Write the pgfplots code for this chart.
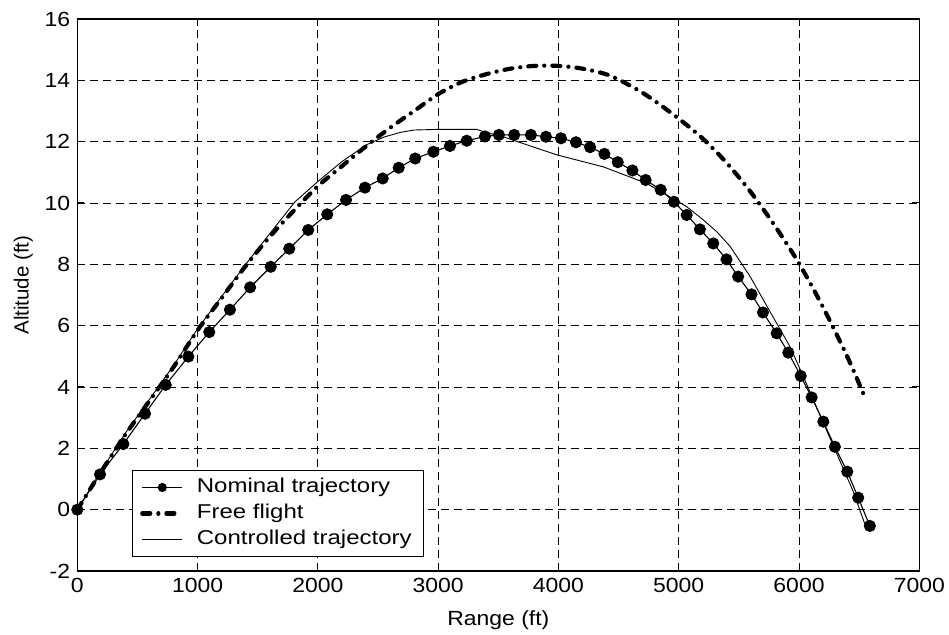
\documentclass[border=0pt]{standalone}
\usepackage{fontspec}
\setmainfont{Liberation Sans}[FakeStretch=1.12]
\newfontfamily\legfont{Liberation Sans}[FakeStretch=1.2]
\newfontfamily\ylabfont{Liberation Sans}
\usepackage{pgfplots}
\pgfplotsset{compat=1.18}

\begin{document}
\begin{tikzpicture}
\useasboundingbox (-77.3pt,-63pt) rectangle (871.7pt,571pt);
\begin{axis}[
  at={(0pt,0pt)}, anchor=south west,
  width=842pt, height=552pt, scale only axis,
  xmin=0, xmax=7000, ymin=-2, ymax=16,
  xtick={0,1000,...,7000}, ytick={-2,0,...,16},
  scaled x ticks=false,
  /pgf/number format/1000 sep={},
  /pgf/number format/assume math mode=true,
  grid=major,
  major grid style={black, line width=0.8pt, dash pattern=on 8pt off 5pt},
  axis line style={black, line width=1.2pt},
  tick align=inside, major tick length=7pt,
  tick style={black, line width=1pt},
  tick label style={font=\fontsize{20.5}{24}\selectfont},
  yticklabel style={inner sep=0pt, xshift=-7pt},
  xticklabel style={inner sep=0pt, yshift=-7pt},
  xlabel={Range (ft)},
  ylabel={\ylabfont Altitude (ft)},
  label style={font=\fontsize{20.5}{24}\selectfont},
  xlabel style={at={([yshift=-54pt]axis description cs:0.5,0)}, anchor=base, inner sep=0pt},
  ylabel style={at={([xshift=-54pt]axis description cs:0,0.518)}, anchor=center, inner sep=0pt},
  legend style={at={(axis description cs:0.0646,0.183)}, anchor=north west,
    draw=black, line width=1pt, fill=white,
    font=\legfont\fontsize{20}{24}\selectfont,
    inner xsep=8pt, inner ysep=4pt, column sep=9pt, row sep=0pt,
    nodes={text height=14.5pt, text depth=4.5pt, inner sep=3.5pt}},
  legend cell align=left,
  legend image code/.code={\draw[mark repeat=2,mark phase=2,#1,mark size=4pt] plot coordinates {(0pt,0pt) (20pt,0pt) (40pt,0pt)};},
]
\addplot[black, line width=1.1pt, mark=*, mark size=5.5pt, mark options={solid}] coordinates {
(0,0) (189,1.15) (383,2.14) (563,3.13) (735,4.07) (923,4.99) (1097,5.79) (1269,6.52)
(1437,7.25) (1608,7.92) (1762,8.51) (1920,9.12) (2078,9.63) (2234,10.10) (2391,10.50)
(2539,10.80) (2672,11.15) (2809,11.45) (2960,11.67) (3098,11.86) (3237,12.03) (3389,12.17)
(3505,12.22) (3632,12.22) (3771,12.22) (3896,12.16) (4021,12.11) (4146,11.98) (4263,11.82)
(4382,11.60) (4493,11.33) (4615,11.06) (4725,10.75) (4850,10.43) (4960,10.04) (5066,9.61)
(5176,9.14) (5287,8.68) (5397,8.16) (5494,7.60) (5605,7.02) (5700,6.43) (5814,5.75)
(5911,5.12) (6014,4.36) (6105,3.66) (6202,2.87) (6298,2.05) (6401,1.24) (6492,0.39) (6589,-0.53)
};
\addlegendentry{Nominal trajectory}
\addplot[black, line width=4.2pt, line cap=round, dash pattern=on 8pt off 8pt on 0.1pt off 8pt, smooth] coordinates {
(0,0) (200,1.25) (400,2.45) (600,3.55) (800,4.65) (1000,5.85) (1200,6.9) (1400,7.95)
(1600,8.9) (1800,9.75) (2000,10.55) (2200,11.2) (2400,11.85) (2600,12.45) (2800,13.0)
(3000,13.55) (3200,13.95) (3400,14.2) (3600,14.38) (3800,14.47) (4000,14.47) (4200,14.38)
(4430,14.15) (4705,13.58) (4980,12.81) (5200,12.1) (5400,11.3) (5600,10.35) (5800,9.25)
(6000,8.03) (6200,6.6) (6400,5.0) (6535,3.78)
};
\addlegendentry{Free flight}
\addplot[black, line width=0.9pt] coordinates {
(0,0) (200,1.28) (400,2.5) (600,3.6) (800,4.7) (1000,5.9) (1200,6.95) (1400,8.0)
(1600,9.0) (1810,10.04) (2000,10.7) (2200,11.35) (2405,11.9) (2550,12.15) (2683,12.3)
(2800,12.38) (3000,12.4) (3320,12.4) (3400,12.3) (3540,12.16) (3985,11.57) (4372,11.18)
(4733,10.64) (4927,10.2) (5066,9.88) (5204,9.45) (5320,9.05) (5428,8.58) (5594,7.60) (5760,6.45)
(5926,5.31) (6036,4.34) (6150,3.3) (6250,2.4) (6350,1.5) (6450,0.6) (6550,-0.5)
};
\addlegendentry{Controlled trajectory}
\end{axis}
\end{tikzpicture}
\end{document}
